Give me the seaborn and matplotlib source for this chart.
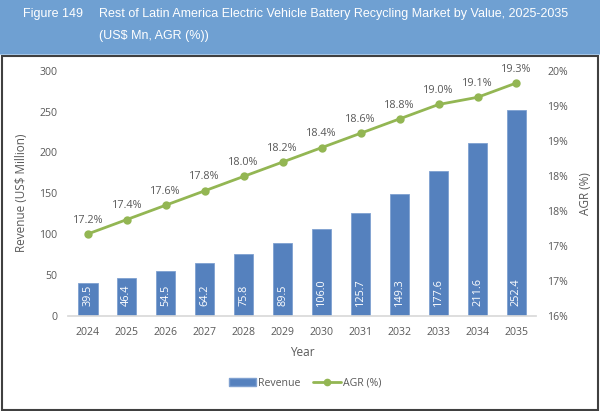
import numpy as np
import matplotlib
matplotlib.use("Agg")
from matplotlib import pyplot as plt
from matplotlib.patches import Rectangle
from matplotlib.lines import Line2D
from matplotlib.patches import Patch
import seaborn as sns

# data
years = ["2024", "2025", "2026", "2027", "2028", "2029",
         "2030", "2031", "2032", "2033", "2034", "2035"]
revenue = [39.5, 46.4, 54.5, 64.2, 75.8, 89.5,
           106.0, 125.7, 149.3, 177.6, 211.6, 252.4]
agr = [17.2, 17.4, 17.6, 17.8, 18.0, 18.2,
       18.4, 18.6, 18.8, 19.0, 19.1, 19.3]
agr_ticklabels = ["16%", "17%", "17%", "18%", "18%", "19%", "19%", "20%"]

BAR = "#5581BE"
GREEN = "#93B653"
TXT = "#595959"
FONT = "Open Sans"

sns.set_theme(style="white")
plt.rcParams["font.family"] = [FONT, "DejaVu Sans"]

fig = plt.figure(figsize=(6.0, 4.11), dpi=100)
ax = fig.add_axes([0.1138, 0.2319, 0.7795, 0.5961])

sns.barplot(x=years, y=revenue, ax=ax, color=BAR, width=0.5,
            saturation=1, edgecolor="#7FA0D0", linewidth=0.6)
ax.set_ylim(0, 300)
ax.set_yticks(np.arange(0, 301, 50))
ax.set_xlim(-0.5, len(years) - 0.5)

# values inside the bars, written upwards from near the base
for i, v in enumerate(revenue):
    ax.text(i, 12, "%.1f" % v, rotation=90, ha="center", va="bottom",
            color="white", fontsize=7.8)

ax2 = ax.twinx()
sns.pointplot(x=years, y=agr, ax=ax2, color=GREEN, markers="o",
              markersize=4.5, linewidth=2)
lo, hi = 16.064, 19.47
ax2.set_ylim(lo, hi)
ax2.set_yticks(np.linspace(lo, hi, 8))
ax2.set_yticklabels(agr_ticklabels)
ax2.set_xlim(-0.5, len(years) - 0.5)
for i, v in enumerate(agr):
    ax2.annotate("%.1f%%" % v, (i, v), xytext=(0, 6),
                 textcoords="offset points", ha="center", va="bottom",
                 color=TXT, fontsize=7.8)

for a in (ax, ax2):
    for s in a.spines.values():
        s.set_visible(False)
    a.grid(False)
ax.spines["bottom"].set_visible(True)
ax.spines["bottom"].set_color("#D9D9D9")
ax.tick_params(axis="both", length=0, labelsize=7.6, labelcolor=TXT)
ax.tick_params(axis="x", pad=8)
ax.tick_params(axis="y", pad=8)
ax2.tick_params(axis="y", length=0, labelsize=7.6, labelcolor=TXT, pad=8)

ax.set_xlabel("Year", fontsize=8.5, color=TXT, labelpad=6)
ax.set_ylabel("Revenue (US$ Million)", fontsize=8.5, color=TXT, labelpad=8)
ax2.set_ylabel("AGR (%)", fontsize=8.5, color=TXT, labelpad=8)

handles = [Patch(facecolor=BAR, edgecolor="#7FA0D0", label="Revenue"),
           Line2D([0], [0], color=GREEN, lw=2, marker="o", markersize=4.5,
                  label="AGR (%)")]
leg = fig.legend(handles=handles, loc="center", bbox_to_anchor=(0.508, 0.068),
                 ncol=2, frameon=False, fontsize=7.6, handlelength=2.6,
                 columnspacing=1.2, handletextpad=0.2)
for t in leg.get_texts():
    t.set_color(TXT)

# title bar and border
fig.patches.append(Rectangle((0, 1 - 54 / 411), 1, 54 / 411,
                             transform=fig.transFigure, facecolor="#6FA0D2",
                             edgecolor="none", zorder=0))
fig.patches.append(Rectangle((0, 1 - 55.5 / 411), 1, 1.5 / 411,
                             transform=fig.transFigure, facecolor="#A9CBEE",
                             edgecolor="none", zorder=1))
fig.patches.append(Rectangle((1.5 / 600, 1.5 / 411), 596.5 / 600,
                             (411 - 57.5) / 411, transform=fig.transFigure,
                             facecolor="none", edgecolor="#404040",
                             linewidth=1.5, zorder=2))

tfont = ["Liberation Sans", "DejaVu Sans"]
fig.text(23 / 600, 1 - 14 / 411, "Figure 149", color="white", fontsize=9,
         family=tfont, va="center", ha="left")
fig.text(99 / 600, 1 - 14 / 411,
         "Rest of Latin America Electric Vehicle Battery Recycling Market by Value, 2025-2035",
         color="white", fontsize=9, family=tfont, va="center", ha="left")
fig.text(99 / 600, 1 - 36 / 411, "(US$ Mn, AGR (%))", color="white",
         fontsize=9, family=tfont, va="center", ha="left")

fig.savefig("out.png", dpi=100)
